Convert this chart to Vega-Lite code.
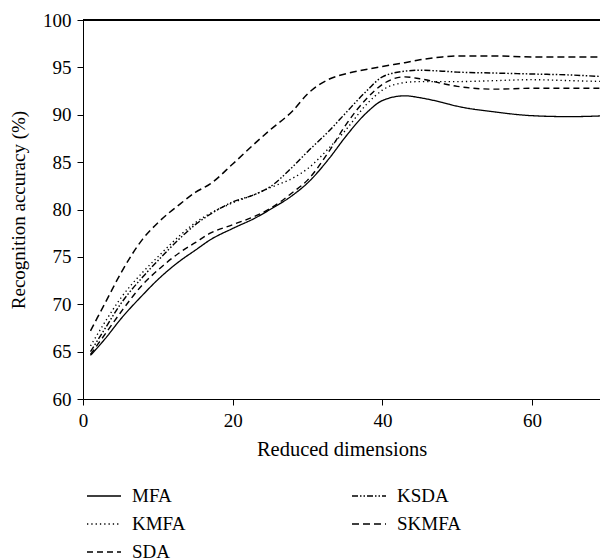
{
  "$schema": "https://vega.github.io/schema/vega-lite/v6.json",
  "width": 517,
  "height": 379,
  "autosize": "none",
  "padding": {"left": 83, "top": 20, "right": 0, "bottom": 161},
  "background": "white",
  "config": {
    "view": {"stroke": null},
    "font": "Liberation Serif",
    "axis": {
      "domainColor": "black", "tickColor": "black", "labelColor": "black", "titleColor": "black",
      "labelFontSize": 19, "titleFontSize": 19, "titleFontWeight": "normal", "labelFlush": false,
      "tickSize": 6, "grid": false, "labelFont": "Liberation Serif", "titleFont": "Liberation Serif"
    },
    "legend": {"labelFont": "Liberation Serif", "labelFontSize": 19, "labelColor": "black"}
  },
  "data": {"values": [
    {"d":1,"m":"MFA","v":64.6},{"d":3,"m":"MFA","v":66.4},{"d":5,"m":"MFA","v":68.4},{"d":8,"m":"MFA","v":71.0},{"d":10,"m":"MFA","v":72.6},{"d":13,"m":"MFA","v":74.6},{"d":15,"m":"MFA","v":75.7},{"d":17,"m":"MFA","v":76.8},{"d":20,"m":"MFA","v":78.0},{"d":23,"m":"MFA","v":79.1},{"d":25,"m":"MFA","v":80.0},{"d":28,"m":"MFA","v":81.5},{"d":30,"m":"MFA","v":82.8},{"d":33,"m":"MFA","v":85.5},{"d":35,"m":"MFA","v":87.6},{"d":38,"m":"MFA","v":90.3},{"d":40,"m":"MFA","v":91.5},{"d":43,"m":"MFA","v":92.0},{"d":45,"m":"MFA","v":91.8},{"d":48,"m":"MFA","v":91.3},{"d":50,"m":"MFA","v":90.9},{"d":55,"m":"MFA","v":90.3},{"d":60,"m":"MFA","v":89.9},{"d":65,"m":"MFA","v":89.8},{"d":70,"m":"MFA","v":89.9},
    {"d":1,"m":"SDA","v":64.7},{"d":3,"m":"SDA","v":66.9},{"d":5,"m":"SDA","v":69.1},{"d":8,"m":"SDA","v":72.1},{"d":10,"m":"SDA","v":73.6},{"d":13,"m":"SDA","v":75.5},{"d":15,"m":"SDA","v":76.5},{"d":17,"m":"SDA","v":77.5},{"d":20,"m":"SDA","v":78.4},{"d":23,"m":"SDA","v":79.3},{"d":25,"m":"SDA","v":80.1},{"d":28,"m":"SDA","v":81.8},{"d":30,"m":"SDA","v":83.1},{"d":33,"m":"SDA","v":86.3},{"d":35,"m":"SDA","v":88.8},{"d":38,"m":"SDA","v":91.8},{"d":40,"m":"SDA","v":93.2},{"d":43,"m":"SDA","v":94.0},{"d":45,"m":"SDA","v":93.8},{"d":48,"m":"SDA","v":93.3},{"d":50,"m":"SDA","v":93.0},{"d":55,"m":"SDA","v":92.7},{"d":60,"m":"SDA","v":92.8},{"d":65,"m":"SDA","v":92.8},{"d":70,"m":"SDA","v":92.8},
    {"d":1,"m":"KMFA","v":65.6},{"d":3,"m":"KMFA","v":68.2},{"d":5,"m":"KMFA","v":70.6},{"d":8,"m":"KMFA","v":73.4},{"d":10,"m":"KMFA","v":75.0},{"d":13,"m":"KMFA","v":77.3},{"d":15,"m":"KMFA","v":78.6},{"d":17,"m":"KMFA","v":79.6},{"d":20,"m":"KMFA","v":80.7},{"d":23,"m":"KMFA","v":81.6},{"d":25,"m":"KMFA","v":82.3},{"d":28,"m":"KMFA","v":83.3},{"d":30,"m":"KMFA","v":84.3},{"d":33,"m":"KMFA","v":86.6},{"d":35,"m":"KMFA","v":88.3},{"d":38,"m":"KMFA","v":91.2},{"d":40,"m":"KMFA","v":92.6},{"d":43,"m":"KMFA","v":93.4},{"d":45,"m":"KMFA","v":93.5},{"d":50,"m":"KMFA","v":93.5},{"d":55,"m":"KMFA","v":93.6},{"d":60,"m":"KMFA","v":93.7},{"d":65,"m":"KMFA","v":93.6},{"d":70,"m":"KMFA","v":93.5},
    {"d":1,"m":"KSDA","v":65.0},{"d":3,"m":"KSDA","v":67.5},{"d":5,"m":"KSDA","v":70.0},{"d":8,"m":"KSDA","v":72.9},{"d":10,"m":"KSDA","v":74.6},{"d":13,"m":"KSDA","v":77.0},{"d":15,"m":"KSDA","v":78.4},{"d":17,"m":"KSDA","v":79.5},{"d":20,"m":"KSDA","v":80.8},{"d":23,"m":"KSDA","v":81.6},{"d":25,"m":"KSDA","v":82.4},{"d":28,"m":"KSDA","v":84.5},{"d":30,"m":"KSDA","v":86.1},{"d":33,"m":"KSDA","v":88.4},{"d":35,"m":"KSDA","v":90.1},{"d":38,"m":"KSDA","v":92.6},{"d":40,"m":"KSDA","v":94.0},{"d":43,"m":"KSDA","v":94.6},{"d":45,"m":"KSDA","v":94.7},{"d":48,"m":"KSDA","v":94.6},{"d":50,"m":"KSDA","v":94.5},{"d":55,"m":"KSDA","v":94.4},{"d":60,"m":"KSDA","v":94.3},{"d":65,"m":"KSDA","v":94.2},{"d":70,"m":"KSDA","v":94.0},
    {"d":1,"m":"SKMFA","v":67.2},{"d":3,"m":"SKMFA","v":70.2},{"d":5,"m":"SKMFA","v":73.2},{"d":8,"m":"SKMFA","v":76.9},{"d":10,"m":"SKMFA","v":78.6},{"d":13,"m":"SKMFA","v":80.6},{"d":15,"m":"SKMFA","v":81.8},{"d":17,"m":"SKMFA","v":82.7},{"d":20,"m":"SKMFA","v":84.8},{"d":23,"m":"SKMFA","v":87.0},{"d":25,"m":"SKMFA","v":88.4},{"d":28,"m":"SKMFA","v":90.4},{"d":30,"m":"SKMFA","v":92.2},{"d":33,"m":"SKMFA","v":93.8},{"d":35,"m":"SKMFA","v":94.3},{"d":38,"m":"SKMFA","v":94.8},{"d":40,"m":"SKMFA","v":95.1},{"d":43,"m":"SKMFA","v":95.5},{"d":45,"m":"SKMFA","v":95.8},{"d":48,"m":"SKMFA","v":96.1},{"d":50,"m":"SKMFA","v":96.2},{"d":55,"m":"SKMFA","v":96.2},{"d":60,"m":"SKMFA","v":96.1},{"d":65,"m":"SKMFA","v":96.1},{"d":70,"m":"SKMFA","v":96.1}
  ]},
  "layer": [
    {
      "mark": {"type": "line", "interpolate": "monotone", "clip": true, "color": "black"},
      "encoding": {
        "x": {"field": "d", "type": "quantitative", "scale": {"domain": [0, 69.07], "nice": false},
              "axis": {"values": [0, 20, 40, 60], "title": "Reduced dimensions", "titleFontSize": 20.5, "titlePadding": 9, "labelPadding": 6}},
        "y": {"field": "v", "type": "quantitative", "scale": {"domain": [60, 100], "nice": false},
              "axis": {"values": [60, 65, 70, 75, 80, 85, 90, 95, 100], "title": "Recognition accuracy (%)", "titlePadding": 14, "labelPadding": 6}},
        "strokeDash": {"field": "m", "type": "nominal",
          "scale": {"domain": ["MFA", "KMFA", "SDA", "KSDA", "SKMFA"],
                    "range": [[1, 0], [1.3, 3], [6, 4], [6, 2, 1.5, 2, 1.5, 2], [7, 4]]},
          "legend": {"title": null, "orient": "none", "legendX": 3, "legendY": 458, "columns": 2, "columnPadding": 163,
                     "symbolType": "stroke", "symbolSize": 1156, "symbolStrokeColor": "black", "labelOffset": 10, "rowPadding": -1, "padding": 0}},
        "strokeWidth": {"field": "m", "type": "nominal",
          "scale": {"domain": ["MFA", "KMFA", "SDA", "KSDA", "SKMFA"], "range": [1.3, 1.5, 1.2, 1.2, 2.4]},
          "legend": null}
      }
    },
    {
      "mark": {"type": "rule", "color": "black", "strokeWidth": 1},
      "encoding": {"y": {"datum": 100}}
    }
  ]
}
